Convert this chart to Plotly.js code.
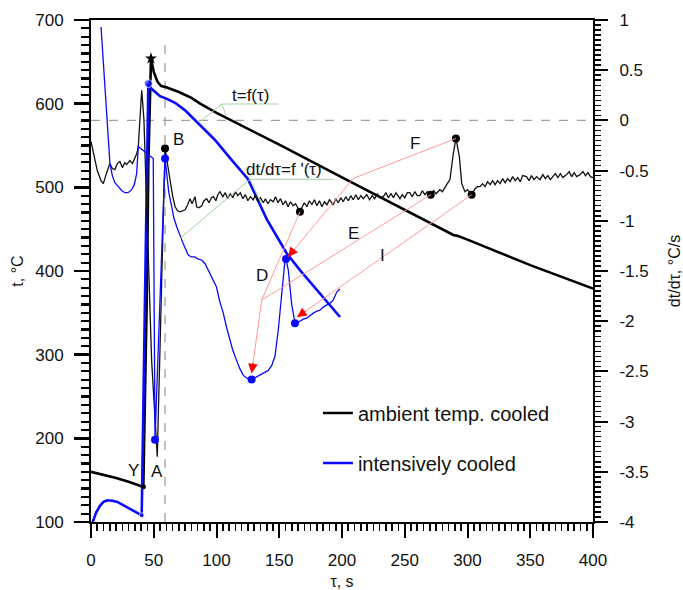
<!DOCTYPE html>
<html><head><meta charset="utf-8">
<script src="https://cdn.plot.ly/plotly-3.0.1.min.js"></script>
<style>html,body{margin:0;padding:0;background:#fff}#chart{width:683px;height:590px}</style>
</head><body><div id="chart"></div>
<script>
// temperature curves (left axis, °C)
const tauBlackT = [0, 10, 20, 30, 41.7, 44.4, 45.7, 47.8, 50, 53, 56, 60, 65, 70, 80, 87, 100, 120, 150, 200, 246, 270, 288.7, 292, 296, 300, 350, 400];
const tBlack    = [160, 156.5, 152.5, 148, 142, 365, 529, 654, 638, 626, 621, 619.5, 617, 614, 607, 600, 589, 574, 551, 512, 476, 457, 443, 442, 440, 437.5, 407, 379];
const tauBlueT  = [0, 2, 4, 7, 10, 13, 17, 21, 26, 31, 36, 40.4, 43, 45.7, 48, 51, 55, 60, 67, 75, 82.9, 90, 98.8, 110.8, 125, 140, 156, 166.5, 180, 198.4];
const tBlue     = [94, 104, 111, 119, 124, 126, 125.5, 124, 120, 116, 112, 108, 365, 624, 618, 614, 609, 606, 601, 592, 580.5, 570, 556.6, 535, 510, 462, 421, 401, 377, 345];

// cooling-rate curves (right axis, °C/s)
const tauBlueD = [8, 12.5, 13.8, 15.1, 17, 19, 21.8, 24.5, 27.1, 29.5, 32.4, 34.5, 36.4, 37.7, 49.6, 50.3, 51, 59, 60.3, 62,
  64.3, 66, 68.3, 70, 72.3, 75, 77.5, 80, 82.9, 85, 88.2, 91, 93.5, 96, 98.8, 100, 102.5, 105.4, 108, 110.8,
  113, 116, 118.5, 121.4, 124.5, 128, 131, 134.7, 138, 141.3, 144, 146.6, 149.2, 152, 154.6, 155.4, 157.2, 159.9, 162.5, 166.5,
  169, 171.9, 174.5, 177.1, 180, 182.5, 185, 187.8, 190.5, 193, 195.8, 198.4];
const dBlue = [0.93, 0.0, -0.195, -0.43, -0.55, -0.62, -0.66, -0.70, -0.72, -0.72, -0.69, -0.64, -0.53, -0.26, -0.38, -2.3, -3.18, -0.38, -0.53, -0.72,
  -0.86, -0.97, -1.06, -1.12, -1.19, -1.27, -1.34, -1.36, -1.36, -1.38, -1.39, -1.43, -1.49, -1.55, -1.63, -1.66, -1.80, -1.92, -2.06, -2.19,
  -2.29, -2.39, -2.47, -2.54, -2.57, -2.58, -2.56, -2.54, -2.51, -2.49, -2.44, -2.35, -2.09, -1.76, -1.39, -1.38, -1.49, -1.83, -2.02, -2.00,
  -1.98, -1.97, -1.94, -1.92, -1.90, -1.89, -1.86, -1.84, -1.82, -1.79, -1.71, -1.68];

const tauBlackD = [0, 2, 5, 8, 9.8, 12, 15, 17, 19, 21, 23, 25, 27, 28.4, 31, 33, 35, 36.5, 37.7, 39, 40.4, 41.2, 42.2, 48.3, 52.8, 59,
  61, 63, 65, 67, 69, 71, 73, 75, 77, 78.9,
  80.5, 82.9, 84.2, 86, 88.2, 90, 92.2, 94, 96, 97.5,
  99.5, 101, 102.8, 105, 107, 109, 111, 113, 115, 117,
  119, 121, 123, 125, 127, 129.3, 131, 133, 135, 137.3,
  139, 141, 143, 145.3, 147, 149, 151, 153, 155, 157,
  159, 161, 163, 165, 166.5, 168, 170, 172, 174, 176,
  178, 180, 182, 184, 186, 188, 190, 193, 195, 197,
  199, 201, 203, 205, 207, 209, 211, 213, 215, 217,
  219.7, 222, 224, 226, 228, 230, 233, 235, 237, 239,
  241, 243, 246.2, 248, 250, 252, 254, 256, 258, 260,
  262, 264, 266, 268, 270.7, 273, 275, 278, 280, 283.4,
  286, 288.7, 290.8, 293.5, 295.4, 298, 300, 303.3, 306, 308,
  310, 312, 314, 316, 318, 320, 322, 324, 326, 328,
  330, 332, 334, 336, 338, 340, 342, 344, 347, 349,
  351, 353, 355, 357.8, 360, 362, 364, 366, 368.4, 370,
  372, 374, 376, 379, 381, 383, 385, 387, 389.6, 392,
  394, 396, 398, 400];
const dBlack = [-0.21, -0.33, -0.50, -0.60, -0.63, -0.54, -0.43, -0.48, -0.49, -0.43, -0.41, -0.47, -0.42, -0.44, -0.40, -0.43, -0.38, -0.33, -0.26, 0.0, 0.30, 0.17, 0.0, -2.39, -3.35, -0.28,
  -0.45, -0.59, -0.75, -0.86, -0.90, -0.91, -0.90, -0.89, -0.84, -0.78,
  -0.83, -0.76, -0.86, -0.87, -0.85, -0.80, -0.78, -0.82, -0.77, -0.76,
  -0.80, -0.74, -0.71, -0.76, -0.72, -0.78, -0.73, -0.77, -0.71, -0.75,
  -0.72, -0.78, -0.74, -0.80, -0.76, -0.79, -0.74, -0.81, -0.77, -0.82,
  -0.78, -0.83, -0.79, -0.81, -0.76, -0.82, -0.78, -0.84, -0.80, -0.86,
  -0.81, -0.85, -0.83, -0.88, -0.91, -0.87, -0.82, -0.86, -0.80, -0.84,
  -0.79, -0.85, -0.80, -0.86, -0.81, -0.84, -0.79, -0.84, -0.78, -0.82,
  -0.77, -0.81, -0.76, -0.80, -0.75, -0.79, -0.74, -0.79, -0.75, -0.78,
  -0.74, -0.79, -0.75, -0.78, -0.73, -0.77, -0.76, -0.72, -0.77, -0.73,
  -0.77, -0.72, -0.78, -0.74, -0.77, -0.72, -0.72, -0.76, -0.71, -0.75,
  -0.75, -0.70, -0.74, -0.71, -0.74, -0.70, -0.73, -0.69, -0.71, -0.64,
  -0.59, -0.33, -0.18, -0.36, -0.63, -0.71, -0.69, -0.74, -0.68, -0.66,
  -0.66, -0.63, -0.66, -0.61, -0.64, -0.60, -0.64, -0.60, -0.63, -0.58,
  -0.62, -0.58, -0.61, -0.56, -0.60, -0.57, -0.61, -0.55, -0.56, -0.60,
  -0.55, -0.59, -0.56, -0.59, -0.54, -0.58, -0.55, -0.59, -0.56, -0.53,
  -0.57, -0.53, -0.57, -0.54, -0.51, -0.56, -0.52, -0.56, -0.54, -0.51,
  -0.55, -0.52, -0.56, -0.57];

// marked points
const blackStarTau = [47.8], blackStarT = [654];
const blackYTau = [41.7], blackYT = [142];
const blueTMarkTau = [40.4, 45.7], blueTMarkT = [108, 624];
const blackDotTau = [59, 166.5, 270.7, 290.8, 303.3], blackDotD = [-0.28, -0.91, -0.74, -0.18, -0.74];
const blueDotTau = [51, 59, 128, 155.4, 162.5], blueDotD = [-3.18, -0.38, -2.58, -1.38, -2.02];

// axis ticks
const xTicks = [0, 50, 100, 150, 200, 250, 300, 350, 400];
const yTicks = [100, 200, 300, 400, 500, 600, 700];
const y2TickVals = [1, 0.5, 0, -0.5, -1, -1.5, -2, -2.5, -3, -3.5, -4];
const y2TickText = ['1', '0.5', '0', '-0.5', '-1', '-1.5', '-2', '-2.5', '-3', '-3.5', '-4'];

const BLUE = '#0a0aff';
const FONT = 'Liberation Sans, Arial, sans-serif';

const traces = [
  {x: tauBlackD, y: dBlack, yaxis: 'y2', mode: 'lines', line: {color: '#111', width: 1.3}, showlegend: false, hoverinfo: 'skip'},
  {x: tauBlueD, y: dBlue, yaxis: 'y2', mode: 'lines', line: {color: BLUE, width: 1.3}, showlegend: false, hoverinfo: 'skip'},
  {x: tauBlackT, y: tBlack, mode: 'lines', name: 'ambient temp. cooled', legendgroup: 'a', line: {color: '#000', width: 2.6}},
  {x: tauBlueT, y: tBlue, mode: 'lines', name: 'intensively cooled', legendgroup: 'b', line: {color: BLUE, width: 2.6}},
  {x: blackStarTau, y: blackStarT, mode: 'markers', marker: {symbol: 'star', size: 9, color: '#000'}, showlegend: false},
  {x: blackYTau, y: blackYT, mode: 'markers', marker: {size: 5, color: '#000'}, showlegend: false},
  {x: blueTMarkTau, y: blueTMarkT, mode: 'markers', marker: {size: [5, 8], color: BLUE}, showlegend: false},
  {x: blackDotTau, y: blackDotD, yaxis: 'y2', mode: 'markers', marker: {size: 8, color: '#000'}, showlegend: false},
  {x: blueDotTau, y: blueDotD, yaxis: 'y2', mode: 'markers', marker: {size: 8, color: BLUE}, showlegend: false}
];

const PINK = '#ff9a9a', GREEN = '#9ed49e';
function seg(x0, y0, x1, y1, color, yref) {
  return {type: 'line', xref: 'x', yref: yref, x0: x0, y0: y0, x1: x1, y1: y1, line: {color: color, width: 1}};
}
const shapes = [
  {type: 'line', xref: 'x', yref: 'paper', x0: 59, x1: 59, y0: 0, y1: 0.96, line: {color: '#a0a0a0', width: 1.3, dash: 'dash'}, layer: 'below'},
  {type: 'line', xref: 'paper', yref: 'y2', x0: 0, x1: 1, y0: 0, y1: 0, line: {color: '#a0a0a0', width: 1.3, dash: 'dash'}, layer: 'below'},
  // green leaders
  seg(104.1, 599.6, 149.2, 599.6, GREEN, 'y'),
  seg(104.1, 599.6, 86.9, 578.5, GREEN, 'y'),
  seg(104.1, 599.6, 108.1, 584.4, GREEN, 'y'),
  seg(126.7, 509.6, 193.1, 509.6, GREEN, 'y'),
  seg(126.7, 509.6, 136, 480, GREEN, 'y'),
  seg(126.7, 509.6, 70.9, 439, GREEN, 'y'),
  // pink leaders
  seg(290.8, -0.18, 209, -0.577, PINK, 'y2'),
  seg(209, -0.577, 157, -1.36, PINK, 'y2'),
  seg(166.5, -0.91, 136, -1.79, PINK, 'y2'),
  seg(270.7, -0.74, 136, -1.79, PINK, 'y2'),
  seg(136, -1.79, 128, -2.52, PINK, 'y2'),
  seg(303.3, -0.74, 164.1, -1.96, PINK, 'y2')
];

function lbl(x, y, text, size) {
  return {x: x, y: y, xref: 'x', yref: 'y', text: text, showarrow: false, font: {family: FONT, size: size || 17, color: '#111'}};
}
function arr(x, y, ax, ay) {
  return {x: x, y: y, xref: 'x', yref: 'y2', ax: ax, ay: ay, text: '', showarrow: true, arrowhead: 2, arrowsize: 1.6, arrowwidth: 1.2, arrowcolor: '#ff0000'};
}
const annotations = [
  lbl(126.7, 609.5, 't=f(τ)', 17),
  lbl(153.5, 521, 'dt/dτ=f \'(τ)', 17),
  lbl(69.6, 556.6, 'B'),
  lbl(33.7, 162, 'Y'),
  lbl(52.3, 160, 'A'),
  lbl(136, 395, 'D'),
  lbl(209, 445, 'E'),
  lbl(258.2, 552.6, 'F'),
  lbl(232.4, 419, 'I'),
  arr(157, -1.36, 7.7, -9.3),
  arr(128, -2.52, 1.6, -11.9),
  arr(164.1, -1.96, 9.8, -6.9)
];

const layout = {
  width: 683, height: 590,
  margin: {l: 91, r: 90, t: 20, b: 68},
  paper_bgcolor: '#fff', plot_bgcolor: '#fff',
  font: {family: FONT, size: 16, color: '#111'},
  showlegend: true,
  legend: {x: 0.452, y: 0.256, xanchor: 'left', yanchor: 'top', traceorder: 'grouped', tracegroupgap: 21,
           font: {family: FONT, size: 20, color: '#111'}, bgcolor: 'rgba(0,0,0,0)'},
  xaxis: {range: [0, 400], tickvals: xTicks, ticks: 'outside', ticklen: 14, tickwidth: 2, tickcolor: '#000',
          minor: {dtick: 5, ticks: 'outside', ticklen: 7, tickwidth: 1.6, tickcolor: '#000'},
          showline: true, linecolor: '#000', linewidth: 2, mirror: true, showgrid: false, zeroline: false,
          ticklabelstandoff: 8,
          tickfont: {family: FONT, size: 17, color: '#111'},
          title: {text: 'τ, s', font: {family: FONT, size: 16, color: '#111'}, standoff: 6}},
  yaxis: {range: [100, 700], tickvals: yTicks, ticks: 'outside', ticklen: 15, tickwidth: 2.4, tickcolor: '#000',
          minor: {dtick: 10, ticks: 'outside', ticklen: 8, tickwidth: 2.2, tickcolor: '#000'},
          showline: true, linecolor: '#000', linewidth: 2, showgrid: false, zeroline: false,
          ticklabelstandoff: 7,
          tickfont: {family: FONT, size: 17, color: '#111'},
          title: {text: 't, °C', font: {family: FONT, size: 16, color: '#111'}, standoff: 8}},
  yaxis2: {range: [-4, 1], overlaying: 'y', side: 'right', tickvals: y2TickVals, ticktext: y2TickText,
           ticks: 'outside', ticklen: 13, tickwidth: 2, tickcolor: '#000',
           minor: {dtick: 0.05, ticks: 'outside', ticklen: 6, tickwidth: 1.5, tickcolor: '#000'},
           showline: true, linecolor: '#000', linewidth: 2, showgrid: false, zeroline: false,
           ticklabelstandoff: 8,
           tickfont: {family: FONT, size: 17, color: '#111'},
           title: {text: 'dt/dτ, °C/s', font: {family: FONT, size: 16, color: '#111'}, standoff: 26}},
  shapes: shapes,
  annotations: annotations
};

Plotly.newPlot('chart', traces, layout, {displayModeBar: false, staticPlot: true});
</script>
</body></html>
